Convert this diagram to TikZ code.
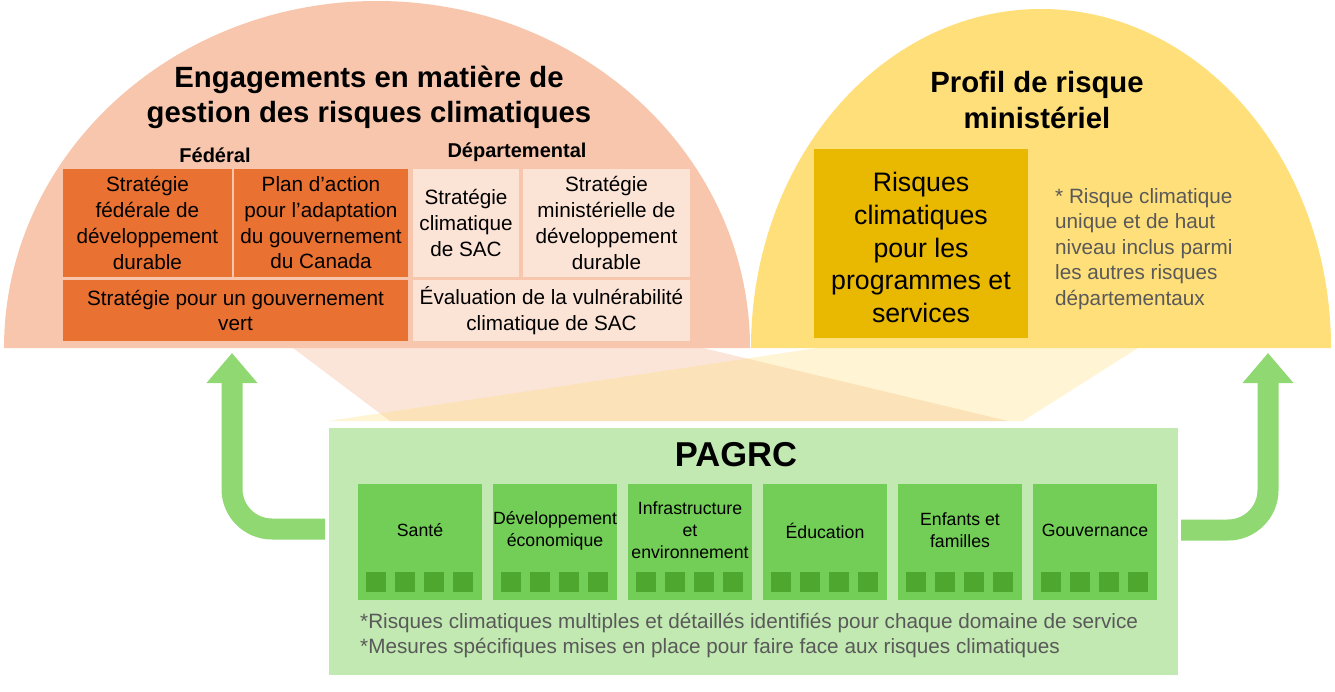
\documentclass[tikz,border=0pt]{standalone}
\usepackage{fontspec}
\setmainfont{Liberation Sans}
\usetikzlibrary{arrows.meta}

\definecolor{saumon}{HTML}{F7C6AD}
\definecolor{orange}{HTML}{E97132}
\definecolor{rose}{HTML}{FBE3D6}
\definecolor{jaune}{HTML}{FFDF79}
\definecolor{ocre}{HTML}{E9B800}
\definecolor{vertpale}{HTML}{C1E9B1}
\definecolor{vertmoyen}{HTML}{72CE56}
\definecolor{vertfonce}{HTML}{4EA72E}
\definecolor{vertfleche}{HTML}{8FD872}
\definecolor{gris}{HTML}{595959}

\begin{document}
\begin{tikzpicture}[x=1pt,y=-1pt,
    boite/.style={inner sep=0pt, align=center, font=\fontsize{20.7}{25.7}\selectfont},
    titre/.style={inner sep=0pt, align=center, font=\bfseries\fontsize{29.3}{35.5}\selectfont},
    note/.style={inner sep=0pt, align=left, text=gris, font=\fontsize{20.7}{25.4}\selectfont},
    domaine/.style={fill=vertmoyen, inner sep=0pt, minimum width=124pt, minimum height=116pt},
    fleche/.style={draw=vertfleche, line width=21pt, rounded corners=40pt,
      -{Triangle[width=49pt,length=30pt]}}]
           \useasboundingbox (0,0) rectangle (1335,691);

           % Demi-ellipse gauche
           \fill[saumon] (4,348) arc[start angle=180, end angle=360, x radius=373, y radius=347] -- cycle;
           \node[titre] (engag) at (369,97.5) {Engagements en matière de\\gestion des risques climatiques};
           \node[inner sep=0pt, font=\bfseries\fontsize{20}{24}\selectfont] (fed) at (215,155) {Fédéral};
           \node[inner sep=0pt, font=\bfseries\fontsize{20}{24}\selectfont] (dep) at (517,152) {Départemental};

           % Boites federales
           \node[boite, fill=orange, minimum width=169pt, minimum height=108pt] (sfdd) at (147.5,223)
             {Stratégie\\fédérale de\\développement\\durable};
           \node[boite, fill=orange, minimum width=174pt, minimum height=108pt] (plan) at (321,223)
             {Plan d’action\\pour l’adaptation\\du gouvernement\\du Canada};
           \node[boite, fill=orange, minimum width=345pt, minimum height=61pt] (sgv) at (235.5,310.5)
             {Stratégie pour un gouvernement\\vert};

           % Boites departementales
           \node[boite, fill=rose, minimum width=106pt, minimum height=108pt] (scsac) at (466,223)
             {Stratégie\\climatique\\de SAC};
           \node[boite, fill=rose, minimum width=167pt, minimum height=108pt] (smdd) at (606.5,223)
             {Stratégie\\ministérielle de\\développement\\durable};
           \node[boite, fill=rose, minimum width=277pt, minimum height=61pt] (evac) at (551.5,310.5)
             {Évaluation de la vulnérabilité\\climatique de SAC};

           % Demi-ellipse droite
           \fill[jaune] (751,348) arc[start angle=180, end angle=360, x radius=290, y radius=339] -- cycle;
           \node[titre] (profil) at (1037,100) {Profil de risque\\ministériel};
           \node[fill=ocre, minimum width=214pt, minimum height=189pt] (risques) at (921,243.5) {};
           \node[inner sep=0pt, align=center, font=\fontsize{26.7}{32.7}\selectfont] (risqtxt) at (921,247.5)
             {Risques\\climatiques\\pour les\\programmes et\\services};
           \node[note, anchor=west] (unique) at (1055,249)
             {* Risque climatique\\unique et de haut\\niveau inclus parmi\\les autres risques\\départementaux};

           % Entonnoirs
           \fill[saumon, fill opacity=0.47] (293,348) -- (703,348) -- (1008,421) -- (390,421) -- cycle;
           \fill[jaune, fill opacity=0.33] (817,348) -- (1138,348) -- (1023,421) -- (328,421) -- cycle;

           % PAGRC
           \node[fill=vertpale, inner sep=0pt, minimum width=849pt, minimum height=247pt] (pagrc) at (753.5,551.5) {};
           \node[inner sep=0pt, font=\bfseries\fontsize{34.5}{40}\selectfont] (sigle) at (736,455) {PAGRC};
           \foreach \nom [count=\i from 0] in {Santé, {Développement\\économique}, {Infrastructure\\et\\environnement},
               Éducation, {Enfants et\\familles}, Gouvernance} {
             \node[domaine] (dom\i) at (420+135*\i,542) {};
             \node[inner sep=0pt, align=center, font=\fontsize{17.7}{22}\selectfont] (nom\i) at (420+135*\i,530.5) {\nom};
             \foreach \j in {0,...,3}
               \fill[vertfonce] (366+135*\i+29*\j,572) rectangle ++(20,20);
           }
           \node[note, anchor=west] (mesures) at (360,635.5)
             {*Risques climatiques multiples et détaillés identifiés pour chaque domaine de service\\
              *Mesures spécifiques mises en place pour faire face aux risques climatiques};

           % Fleches
           \coordinate (depG) at (325,529);
           \coordinate (finG) at (232,353);
           \coordinate (depD) at (1181,530);
           \coordinate (finD) at (1268,353);
           \draw[fleche] (depG) -| (finG);
           \draw[fleche] (depD) -| (finD);

         \end{tikzpicture}
\end{document}
